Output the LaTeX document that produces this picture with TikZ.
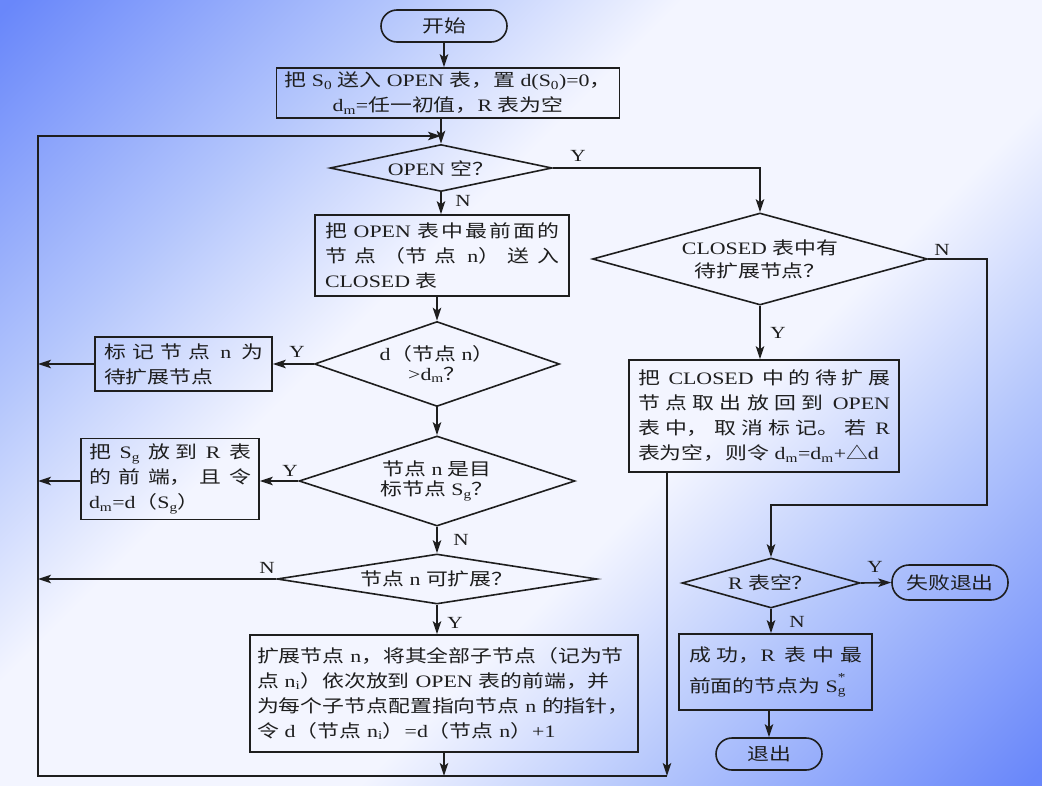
\documentclass[tikz,border=0pt]{standalone}
\usepackage{fontspec}
\setmainfont{Liberation Serif}[FakeStretch=1.25]
\newfontfamily\cjk{Noto Sans CJK SC}[FakeStretch=1.25]
\usetikzlibrary{shapes.geometric,arrows.meta,calc}
\XeTeXlinebreaklocale "zh"
\XeTeXlinebreakskip=0pt plus 4pt
\newcommand\zh[1]{{\cjk #1}}
\definecolor{bgB}{RGB}{105,135,250}
\definecolor{bgM}{RGB}{180,198,252}
\definecolor{bgW}{RGB}{243,245,255}
\definecolor{ink}{RGB}{30,30,30}
\pgfdeclareverticalshading{bgshade}{100bp}{color(0bp)=(bgB); color(15bp)=(bgB); color(30bp)=(bgM); color(41bp)=(bgW); color(59bp)=(bgW); color(70bp)=(bgM); color(85bp)=(bgB); color(100bp)=(bgB)}
\tikzset{
  procbox/.style={draw=ink, line width=1.6pt, rectangle, inner xsep=8pt, inner ysep=0pt, text=ink},
  term/.style={draw=ink, line width=1.6pt, rectangle, rounded corners=16pt, minimum height=32pt, inner sep=0pt, text=ink},
  dec/.style={draw=ink, line width=1.6pt, diamond, inner sep=0pt, align=center, text=ink},
  lbl/.style={font=\fontsize{17}{17}\selectfont, inner sep=0pt, text=ink},
  arr/.style={draw=ink, line width=1.6pt, -{Stealth[length=13pt,width=8.5pt,inset=3pt]}},
  ln/.style={draw=ink, line width=1.6pt}
}
\begin{document}
\begin{tikzpicture}[x=1pt,y=-1pt, font=\fontsize{17.5}{25}\selectfont]
\shade[shading=bgshade, shading angle=45] (0,0) rectangle (1042,785);
\useasboundingbox (0,0) rectangle (1042,785);

% left column
\node[term, minimum width=126pt] (start) at (444,26) {\zh{开始}};
\node[procbox, minimum width=342pt, minimum height=50pt, align=center] (b1) at (448,93)
  {\zh{把} S\textsubscript{0} \zh{送入} OPEN \zh{表，置} d(S\textsubscript{0})=0\zh{，}\\
   d\textsubscript{m}=\zh{任一初值，}R \zh{表为空}};
\node[dec, minimum width=222pt, minimum height=47pt, aspect=4.7] (d1) at (441,168) {OPEN \zh{空？}};
\node[procbox, inner xsep=10pt, text width=234pt, minimum height=81pt, align=justify] (b2) at (442,255.5)
  {\zh{把} OPEN \zh{表中最前面的}\linebreak
   \zh{节点（节点} n\zh{）送入}\linebreak
   CLOSED \zh{表}};
\node[dec, minimum width=245pt, minimum height=85pt, aspect=2.9, font=\fontsize{17.5}{20}\selectfont] (d3) at (437,364)
  {d\zh{（节点} n\zh{）}\\ >d\textsubscript{m}\zh{？}};
\node[procbox, inner xsep=9pt, text width=159pt, minimum height=54pt, align=justify] (mk) at (183.5,364)
  {\zh{标记节点} n \zh{为}\linebreak \zh{待扩展节点}};
\node[dec, minimum width=276pt, minimum height=90pt, aspect=3.07, font=\fontsize{17.5}{20}\selectfont] (d4) at (437,481)
  {\zh{节点} n \zh{是目}\\ \zh{标节点} S\textsubscript{g}\zh{？}};
\node[procbox, inner xsep=8pt, text width=162pt, minimum height=81pt, align=justify] (sg) at (170,479)
  {\zh{把} S\textsubscript{g} \zh{放到} R \zh{表}\linebreak
   \zh{的前端，且令}\linebreak
   d\textsubscript{m}=d\zh{（}S\textsubscript{g}\zh{）}};
\node[dec, minimum width=320pt, minimum height=50pt, aspect=6.4] (d5) at (437,579) {\zh{节点} n \zh{可扩展？}};
\node[procbox, inner xsep=7pt, text width=374pt, minimum height=117pt, align=left] (exp) at (444,693.5)
  {\zh{扩展节点} n\zh{，将其全部子节点（记为节}\\
   \zh{点} n\textsubscript{i}\zh{）依次放到} OPEN \zh{表的前端，并}\\
   \zh{为每个子节点配置指向节点} n \zh{的指针，}\\
   \zh{令} d\zh{（节点} n\textsubscript{i}\zh{）}=d\zh{（节点} n\zh{）}+1};

% right column
\node[dec, minimum width=335pt, minimum height=92pt, aspect=3.64, font=\fontsize{17.5}{23}\selectfont] (d2) at (760,259)
  {CLOSED \zh{表中有}\\ \zh{待扩展节点？}};
\node[procbox, inner xsep=9pt, text width=252pt, minimum height=112pt, align=justify] (cb) at (764,416)
  {\zh{把} CLOSED \zh{中的待扩展}\linebreak
   \zh{节点取出放回到} OPEN\linebreak
   \zh{表中，取消标记。若} R\linebreak
   \zh{表为空，则令} d\textsubscript{m}=d\textsubscript{m}+\zh{△}d};
\node[dec, minimum width=178pt, minimum height=50pt, aspect=3.56] (dR) at (771,583) {R \zh{表空？}};
\node[term, minimum width=116pt, minimum height=35pt, rounded corners=17pt] (fail) at (950,582.5) {\zh{失败退出}};
\node[procbox, inner xsep=10pt, text width=173pt, minimum height=76pt, align=justify, font=\fontsize{17.5}{31}\selectfont] (succ) at (775.5,672)
  {\zh{成功，}R \zh{表中最}\linebreak
   \zh{前面的节点为} S\rlap{\raisebox{0.55ex}{\textsuperscript{*}}}\textsubscript{g}};
\node[term, minimum width=106pt] (ex) at (769,754) {\zh{退出}};

% loop coordinates
\coordinate (LB) at (38,776);
\coordinate (LT) at (38,136);
\coordinate (RB) at (667,776);
\coordinate (NR) at (987,505);

% main column arrows
\draw[arr] (start.south) -- (start.south |- b1.north);
\draw[arr] (b1.south -| d1.north) -- (d1.north);
\draw[arr] (d1.south) -- (d1.south |- b2.north);
\draw[arr] (b2.south -| d3.north) -- (d3.north);
\draw[arr] (d3.south) -- (d4.north);
\draw[arr] (d4.south) -- (d5.north);
\draw[arr] (d5.south) -- (d5.south |- exp.north);
\draw[arr] (exp.south) -- (exp.south |- LB);

% side branches
\draw[arr] (d3.west) -- (d3.west -| mk.east);
\draw[arr] (mk.west) -- (mk.west -| LB);
\draw[arr] (d4.west) -- (d4.west -| sg.east);
\draw[arr] (d4.west -| sg.west) -- (d4.west -| LB);
\draw[arr] (d5.west) -- (d5.west -| LB);

% loop back
\draw[arr] (cb.south -| RB) -- (RB);
\draw[arr] (RB) -- (LB) -- (LT) -- (LT -| d1.north);

% right side
\draw[arr] (d1.east) -| (d2.north);
\draw[arr] (d2.south) -- (d2.south |- cb.north);
\draw[arr] (d2.east) -| (NR) -| (dR.north);
\draw[arr] (dR.east) -- (fail.west);
\draw[arr] (dR.south) -- (dR.south |- succ.north);
\draw[arr] (succ.south -| ex.north) -- (ex.north);

% labels
\node[lbl] (ly1) at (578,156) {Y};
\node[lbl] (ln1) at (463,201) {N};
\node[lbl] (ly3) at (297,352) {Y};
\node[lbl] (ly4) at (290,471) {Y};
\node[lbl] (ln4) at (461,540) {N};
\node[lbl] (ln5) at (267,568) {N};
\node[lbl] (ly5) at (455,623) {Y};
\node[lbl] (ln2) at (942,250) {N};
\node[lbl] (ly2) at (778,333) {Y};
\node[lbl] (lyR) at (875,567) {Y};
\node[lbl] (lnR) at (797,622) {N};
\end{tikzpicture}
\end{document}
